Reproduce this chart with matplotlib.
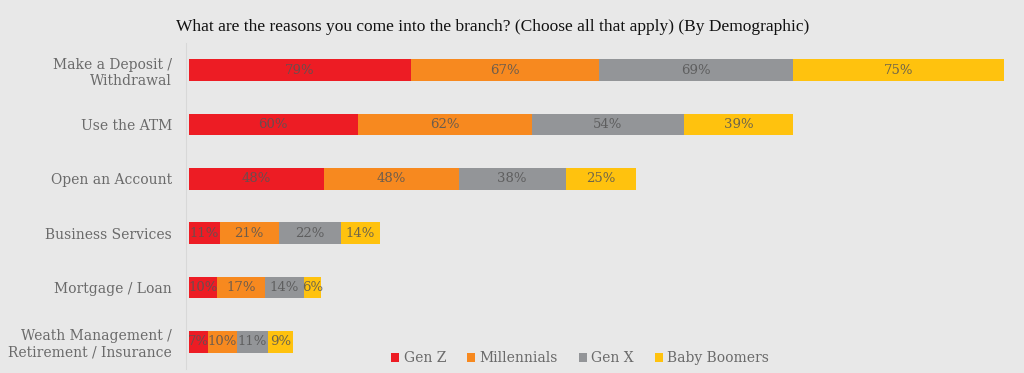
import matplotlib
matplotlib.use("Agg")
import matplotlib.pyplot as plt
import numpy as np

plt.rcParams["font.family"] = ["DejaVu Serif"]

categories = ["Make a Deposit /\nWithdrawal", "Use the ATM", "Open an Account",
              "Business Services", "Mortgage / Loan",
              "Weath Management /\nRetirement / Insurance"]
series_names = ["Gen Z", "Millennials", "Gen X", "Baby Boomers"]
gen_z = [79, 60, 48, 11, 10, 7]
millennials = [67, 62, 48, 21, 17, 10]
gen_x = [69, 54, 38, 22, 14, 11]
boomers = [75, 39, 25, 14, 6, 9]
colors = ["#ed1c24", "#f7891f", "#939598", "#ffc20e"]

bg = "#e8e8e8"
fig = plt.figure(figsize=(10.24, 3.73), dpi=100, facecolor=bg)
ax = fig.add_axes([186/1024, 0.0102, (1010-186)/1024, 0.875], facecolor=bg)

y = np.arange(len(categories))
left = np.zeros(len(categories))
for name, vals, c in zip(series_names, [gen_z, millennials, gen_x, boomers], colors):
    vals = np.array(vals, dtype=float)
    ax.barh(y, vals, left=left, height=0.40, color=c, label=name)
    for yi, l, v in zip(y, left, vals):
        ax.text(l + v/2, yi, f"{int(v)}%", ha="center", va="center",
                fontsize=9.5, color="#555555", alpha=0.85)
    left += vals

ax.set_ylim(5.5, -0.5)
ax.set_xlim(-1, 292)
ax.set_yticks(y)
ax.set_yticklabels(categories, linespacing=1.05, multialignment="right")
ax.tick_params(axis="y", length=0, pad=10, labelsize=10, labelcolor="#6a6a6a")
ax.set_xticks([])
for s in ["top", "right", "bottom"]:
    ax.spines[s].set_visible(False)
ax.spines["left"].set_color("#d8d8d8")
ax.spines["left"].set_position(("data", -1))

leg = fig.legend(loc="center", bbox_to_anchor=(580/1024, 1 - 358/373), ncol=4,
                 frameon=False, prop={"size": 10},
                 handlelength=0.6, handleheight=0.6, handletextpad=0.3,
                 columnspacing=1.5, labelcolor="#6a6a6a")

fig.text(493/1024, 1 - 27/373,
         "What are the reasons you come into the branch? (Choose all that apply) (By Demographic)",
         ha="center", va="center", fontsize=12.5, family=["Liberation Serif"], color="#111111")

fig.savefig("out.png", dpi=100, facecolor=bg)
